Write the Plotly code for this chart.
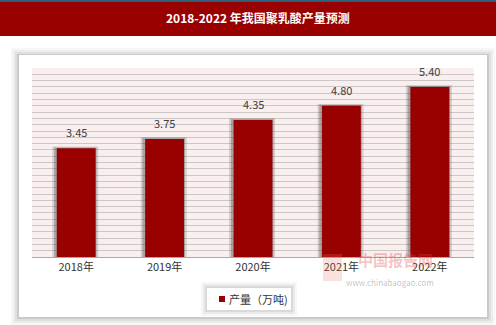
import plotly.graph_objects as go

categories = ["2018年", "2019年", "2020年", "2021年", "2022年"]
values = [3.45, 3.75, 4.35, 4.80, 5.40]
labels = ["3.45", "3.75", "4.35", "4.80", "5.40"]
series_name = "产量（万吨)"
title_text = "2018-2022 年我国聚乳酸产量预测"

W, H = 496, 325
L, R, T, B = 32, 22, 68, 68
PW, PH = W - L - R, H - T - B

def px(x):
    return (x - L) / PW

def py(y):
    return (H - B - y) / PH

FONT = "Noto Sans CJK SC, Noto Sans, sans-serif"
RED = "#990000"

fig = go.Figure()

# soft shadow behind bars
fig.add_trace(go.Bar(x=categories, y=[v + 0.06 for v in values], width=0.52, offset=-0.27,
                     marker=dict(color="rgba(60,60,60,0.18)", line=dict(width=0)),
                     showlegend=False, hoverinfo="skip"))
fig.add_trace(go.Bar(x=categories, y=[v + 0.03 for v in values], width=0.48, offset=-0.25,
                     marker=dict(color="rgba(60,60,60,0.30)", line=dict(width=0)),
                     showlegend=False, hoverinfo="skip"))
fig.add_trace(go.Bar(x=categories, y=values, width=0.44, offset=-0.22,
                     marker=dict(color=RED, line=dict(width=0)),
                     showlegend=False, name=series_name))

shapes = []
# top thin line and title bar
shapes.append(dict(type="rect", xref="paper", yref="paper", x0=px(0), x1=px(W), y0=py(0), y1=py(2),
                   fillcolor="#2b5f7a", line=dict(width=0), layer="below"))
shapes.append(dict(type="rect", xref="paper", yref="paper", x0=px(0), x1=px(W), y0=py(2), y1=py(36),
                   fillcolor=RED, line=dict(width=0), layer="below"))
# card shadow
for d, op in [(8, 0.03), (6, 0.04), (4, 0.06), (2, 0.09)]:
    shapes.append(dict(type="rect", xref="paper", yref="paper",
                       x0=px(19 - d), x1=px(487 + d), y0=py(55 - d + 1), y1=py(317 + d),
                       fillcolor=f"rgba(0,0,0,{op})", line=dict(width=0), layer="below"))
shapes.append(dict(type="rect", xref="paper", yref="paper", x0=px(19), x1=px(487), y0=py(55), y1=py(317),
                   fillcolor="white", line=dict(width=0), layer="below"))
# plot background
shapes.append(dict(type="rect", xref="paper", yref="paper", x0=0, x1=1, y0=0, y1=1,
                   fillcolor="#f9efef", line=dict(width=0), layer="below"))
# legend box shadow
for d, op in [(6, 0.03), (4, 0.05), (2, 0.07)]:
    shapes.append(dict(type="rect", xref="paper", yref="paper",
                       x0=px(207 - d), x1=px(291 + d), y0=py(288 - d), y1=py(310 + d),
                       fillcolor=f"rgba(0,0,0,{op})", line=dict(width=0), layer="below"))
shapes.append(dict(type="rect", xref="paper", yref="paper", x0=px(207), x1=px(291), y0=py(288), y1=py(310),
                   fillcolor="white", line=dict(width=0), layer="below"))
# legend marker
shapes.append(dict(type="rect", xref="paper", yref="paper", x0=px(219), x1=px(225), y0=py(296), y1=py(302),
                   fillcolor=RED, line=dict(width=0), layer="above"))
# watermark logo block
shapes.append(dict(type="rect", xref="paper", yref="paper", x0=px(323), x1=px(342), y0=py(254), y1=py(281),
                   fillcolor="rgba(230,120,100,0.22)", line=dict(width=0), layer="above"))

annotations = []
annotations.append(dict(text=f"<b>{title_text}</b>", xref="paper", yref="paper", x=px(258), y=py(18),
                        showarrow=False, font=dict(family=FONT, size=12, color="white"),
                        xanchor="center", yanchor="middle"))
for c, v, t in zip(categories, values, labels):
    annotations.append(dict(text=t, x=c, y=v, xref="x", yref="y", showarrow=False,
                            yanchor="bottom", yshift=6, font=dict(family=FONT, size=11, color="#404040")))
# legend text
annotations.append(dict(text=series_name, xref="paper", yref="paper", x=px(227), y=py(299),
                        showarrow=False, xanchor="left", yanchor="middle",
                        font=dict(family=FONT, size=11, color="#333333")))
# watermark
annotations.append(dict(text="<b>中国报告网</b>", xref="paper", yref="paper", x=px(395), y=py(259),
                        showarrow=False, font=dict(family=FONT, size=15, color="rgba(220,70,70,0.33)"),
                        xanchor="center", yanchor="middle"))
annotations.append(dict(text="www.chinabaogao.com", xref="paper", yref="paper", x=px(390), y=py(282),
                        showarrow=False, font=dict(family=FONT, size=8, color="rgba(120,120,120,0.45)"),
                        xanchor="center", yanchor="middle"))

fig.update_layout(
    width=W, height=H,
    margin=dict(l=L, r=R, t=T, b=B, pad=0),
    paper_bgcolor="white",
    plot_bgcolor="rgba(0,0,0,0)",
    barmode="overlay",
    shapes=shapes,
    annotations=annotations,
    font=dict(family=FONT, size=11, color="#333333"),
    showlegend=False,
    xaxis=dict(showgrid=False, ticks="", showline=True, linecolor="#a8a8a8", linewidth=1,
               tickfont=dict(family=FONT, size=11, color="#333333"), fixedrange=True),
    yaxis=dict(range=[0, 6], dtick=0.2, tick0=0, showgrid=True, gridcolor="#cdc6c6", gridwidth=1,
               showticklabels=False, zeroline=False, ticks="", fixedrange=True),
)

fig.write_html("out.html")
